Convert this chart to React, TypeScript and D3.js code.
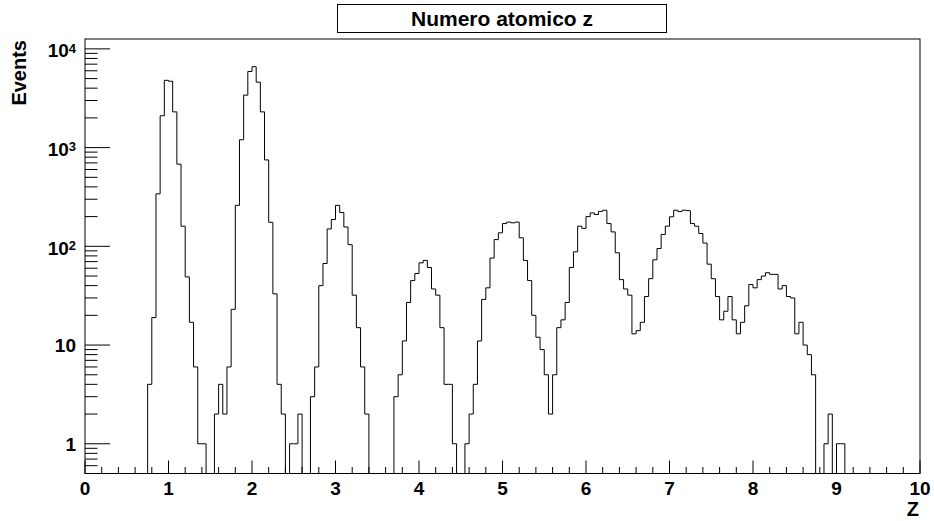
import React from "react";
import * as d3 from "d3";

const titleText = "Numero atomico z";
const xTitle = "Z";
const yTitle = "Events";
const xMin = 0;
const xMax = 10;
const nBins = 200;
const xTickValues = [0, 1, 2, 3, 4, 5, 6, 7, 8, 9, 10];
const yMajorTicks = [1, 10, 100, 1000, 10000];
const yTickLabels = [
  { base: "1", exp: "" },
  { base: "10", exp: "" },
  { base: "10", exp: "2" },
  { base: "10", exp: "3" },
  { base: "10", exp: "4" },
];

// Bin contents, bins of width 0.05 from 0 to 10
const counts = [
  0, 0, 0, 0, 0, 0, 0, 0, 0, 0, 0, 0, 0, 0, 0, 4, 19, 340, 2100, 4800,
  4700, 2300, 680, 160, 49, 17, 6, 1, 1, 0, 0, 2, 4, 2, 6, 23, 260, 1200, 3400, 5900,
  6600, 4600, 2300, 750, 175, 33, 4, 2, 0, 1, 1, 2, 0, 0, 3, 6, 40, 67, 150, 187,
  260, 220, 157, 104, 32, 15, 6, 2, 0, 0, 0, 0, 0, 0, 3, 5, 11, 27, 45, 53,
  68, 72, 61, 37, 32, 15, 4, 4, 1, 0, 0, 1, 2, 4, 11, 29, 38, 76, 117, 137,
  170, 176, 173, 176, 122, 72, 45, 20, 12, 9, 5, 2, 5, 15, 18, 27, 61, 88, 160, 152,
  200, 218, 210, 226, 232, 170, 140, 86, 46, 37, 32, 13, 14, 17, 31, 47, 73, 95, 132, 160,
  199, 232, 225, 232, 230, 170, 160, 135, 108, 66, 47, 31, 18, 22, 31, 18, 13, 17, 25, 41,
  38, 46, 50, 54, 52, 52, 37, 40, 31, 30, 13, 17, 10, 8, 5, 0, 0, 1, 2, 0,
  1, 1, 0, 0, 0, 0, 0, 0, 0, 0, 0, 0, 0, 0, 0, 0, 0, 0, 0, 0,
];

const W = 934;
const H = 521;
const left = 85;
const right = 920;
const top = 39;
const bottom = 473.5;
const FONT = "'Liberation Sans', Arial, Helvetica, sans-serif";

export default function App() {
  const x = d3.scaleLinear().domain([xMin, xMax]).range([left, right]);
  const y = d3.scaleLog().domain([0.5, Math.pow(10, 4.1)]).range([bottom, top]);
  const bw = (xMax - xMin) / nBins;
  const yPos = (v: number) => (v > 0 ? y(v) : bottom);

  let d = `M${x(xMin)},${bottom}`;
  counts.forEach((v, i) => {
    const x0 = x(xMin + i * bw);
    const x1 = x(xMin + (i + 1) * bw);
    d += `L${x0},${yPos(v)}L${x1},${yPos(v)}`;
  });
  d += `L${x(xMax)},${bottom}`;

  const xMinor: number[] = [];
  for (let k = 0; k <= 50; k++) xMinor.push(xMin + k * 0.2);

  const yMinor: number[] = [];
  [0.1, 1, 10, 100, 1000].forEach((dec) => {
    for (let m = 2; m <= 9; m++) {
      const v = m * dec;
      if (v >= 0.5 && v <= Math.pow(10, 4.1)) yMinor.push(v);
    }
  });

  const majLenX = 13;
  const minLenX = 6.5;
  const majLenY = 25;
  const minLenY = 12.5;

  return (
    <svg
      width={W}
      height={H}
      style={{ position: "absolute", left: 0, top: 0, background: "#fff" }}
    >
      <rect x={0} y={0} width={W} height={H} fill="#fff" />
      {/* frame */}
      <rect
        x={left}
        y={top}
        width={right - left}
        height={bottom - top}
        fill="none"
        stroke="#000"
        strokeWidth={1}
      />
      {/* histogram */}
      <path d={d} fill="none" stroke="#000" strokeWidth={1} />
      {/* x ticks */}
      {xMinor.map((v, i) => {
        const isMajor = Math.abs(v - Math.round(v)) < 1e-6;
        const len = isMajor ? majLenX : minLenX;
        return (
          <line
            key={"xt" + i}
            x1={x(v)}
            x2={x(v)}
            y1={bottom}
            y2={bottom - len}
            stroke="#000"
            strokeWidth={1}
          />
        );
      })}
      {xTickValues.map((v) => (
        <text
          key={"xl" + v}
          x={x(v)}
          y={494.5}
          textAnchor="middle"
          fontFamily={FONT}
          fontWeight="bold"
          fontSize={19}
          fill="#000"
        >
          {v}
        </text>
      ))}
      <text
        x={919}
        y={516}
        textAnchor="end"
        fontFamily={FONT}
        fontWeight="bold"
        fontSize={20}
        fill="#000"
      >
        {xTitle}
      </text>
      {/* y ticks */}
      {yMajorTicks.map((v) => (
        <line
          key={"yM" + v}
          x1={left}
          x2={left + majLenY}
          y1={y(v)}
          y2={y(v)}
          stroke="#000"
          strokeWidth={1}
        />
      ))}
      {yMinor.map((v, i) => (
        <line
          key={"ym" + i}
          x1={left}
          x2={left + minLenY}
          y1={y(v)}
          y2={y(v)}
          stroke="#000"
          strokeWidth={1}
        />
      ))}
      {yMajorTicks.map((v, i) => {
        const lab = yTickLabels[i];
        const yy = y(v);
        return (
          <text
            key={"yl" + v}
            x={76}
            y={lab.exp ? yy + 8.3 : yy + 7}
            textAnchor="end"
            fontFamily={FONT}
            fontWeight="bold"
            fontSize={19}
            fill="#000"
          >
            {lab.base}
            {lab.exp ? (
              <tspan fontSize={13} dy={-4.6}>
                {lab.exp}
              </tspan>
            ) : null}
          </text>
        );
      })}
      <text
        transform={`translate(26,40) rotate(-90)`}
        textAnchor="end"
        fontFamily={FONT}
        fontWeight="bold"
        fontSize={20}
        fill="#000"
      >
        {yTitle}
      </text>
      {/* title box */}
      <rect
        x={337.5}
        y={4.5}
        width={329}
        height={28}
        fill="#fff"
        stroke="#000"
        strokeWidth={1}
      />
      <text
        x={502}
        y={26}
        textAnchor="middle"
        fontFamily={FONT}
        fontWeight="bold"
        fontSize={21}
        fill="#000"
      >
        {titleText}
      </text>
    </svg>
  );
}
